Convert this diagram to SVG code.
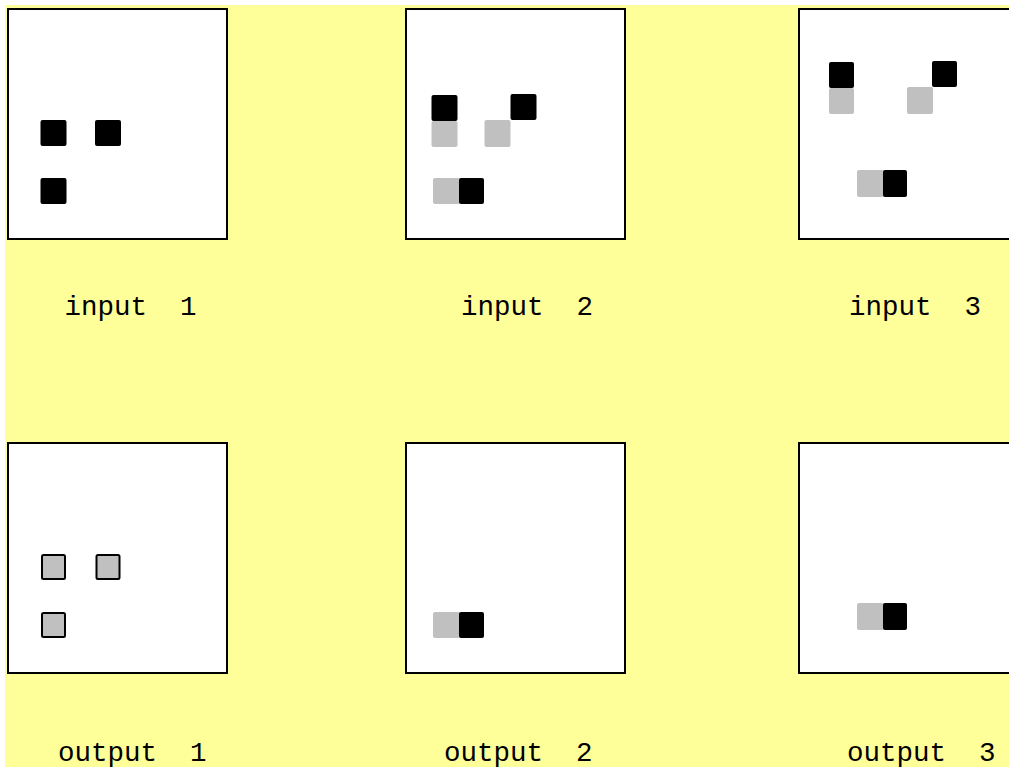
<svg xmlns="http://www.w3.org/2000/svg" width="1009" height="767" viewBox="0 0 1009 767">
  <style>
    .frame { fill: #ffffff; stroke: #000000; stroke-width: 2; }
    .blk { fill: #000000; }
    .gry { fill: #c0c0c0; }
    .gryo { fill: #c0c0c0; stroke: #000000; stroke-width: 2; }
    .lbl { font-family: "Liberation Mono", "Courier New", monospace; font-size: 27.5px; fill: #000000; white-space: pre; }
  </style>
  <rect x="0" y="0" width="1009" height="767" fill="#ffffff"/>
  <rect x="5" y="5" width="1004" height="762" fill="#ffff99"/>

  <g id="input1">
    <rect class="frame" x="8" y="9" width="219" height="230"/>
    <rect class="blk" x="40.5" y="120" width="26" height="26" rx="2"/>
    <rect class="blk" x="95" y="120" width="26" height="26" rx="2"/>
    <rect class="blk" x="40.5" y="178" width="26" height="26" rx="2"/>
    <text class="lbl" x="64.5" y="315" xml:space="preserve">input  1</text>
  </g>

  <g id="input2">
    <rect class="frame" x="406" y="9" width="219" height="230"/>
    <rect class="gry" x="431.5" y="121" width="26" height="26" rx="2"/>
    <rect class="blk" x="431.5" y="95" width="26" height="26" rx="2"/>
    <rect class="gry" x="484.5" y="120" width="26" height="27" rx="2"/>
    <rect class="blk" x="510.5" y="94" width="26" height="26" rx="2"/>
    <rect class="gry" x="433" y="178" width="27" height="26" rx="2"/>
    <rect class="blk" x="459" y="178" width="25" height="26" rx="2"/>
    <text class="lbl" x="461" y="315" xml:space="preserve">input  2</text>
  </g>

  <g id="input3">
    <rect class="frame" x="799" y="9" width="219" height="230"/>
    <rect class="gry" x="829" y="88" width="25" height="26" rx="2"/>
    <rect class="blk" x="829" y="62" width="25" height="26" rx="2"/>
    <rect class="gry" x="907" y="87" width="26" height="27" rx="2"/>
    <rect class="blk" x="932" y="61" width="25" height="26" rx="2"/>
    <rect class="gry" x="857" y="170" width="27" height="27" rx="2"/>
    <rect class="blk" x="883" y="170" width="24" height="27" rx="2"/>
    <text class="lbl" x="849" y="315" xml:space="preserve">input  3</text>
  </g>

  <g id="output1">
    <rect class="frame" x="8" y="443" width="219" height="230"/>
    <rect class="gryo" x="42" y="555" width="23" height="24" rx="1.5"/>
    <rect class="gryo" x="96.5" y="555" width="23" height="24" rx="1.5"/>
    <rect class="gryo" x="42" y="613" width="23" height="24" rx="1.5"/>
    <text class="lbl" x="58" y="761" xml:space="preserve">output  1</text>
  </g>

  <g id="output2">
    <rect class="frame" x="406" y="443" width="219" height="230"/>
    <rect class="gry" x="433" y="612" width="27" height="26" rx="2"/>
    <rect class="blk" x="459" y="612" width="25" height="26" rx="2"/>
    <text class="lbl" x="444" y="761" xml:space="preserve">output  2</text>
  </g>

  <g id="output3">
    <rect class="frame" x="799" y="443" width="219" height="230"/>
    <rect class="gry" x="857" y="603" width="27" height="27" rx="2"/>
    <rect class="blk" x="883" y="603" width="24" height="27" rx="2"/>
    <text class="lbl" x="847" y="761" xml:space="preserve">output  3</text>
  </g>

  <g id="connectors"/>
</svg>
